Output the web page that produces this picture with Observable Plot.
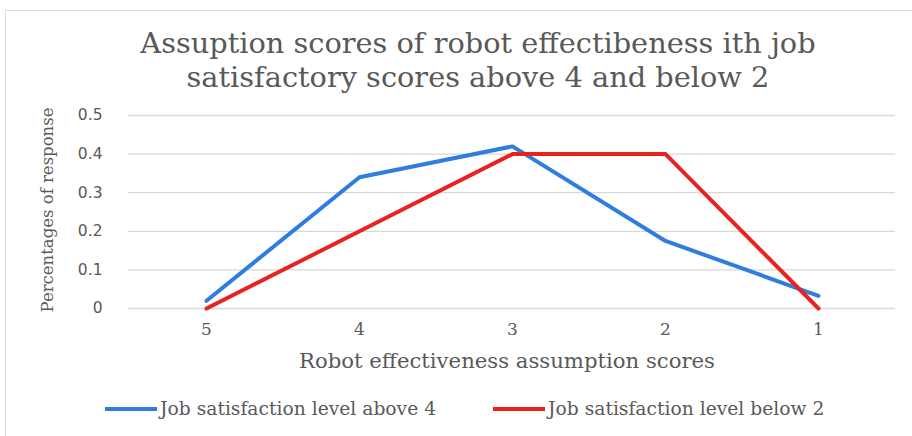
<!DOCTYPE html>
<html>
<head>
<meta charset="utf-8">
<script src="https://cdn.jsdelivr.net/npm/d3@7"></script>
<script src="https://cdn.jsdelivr.net/npm/@observablehq/plot@0.6"></script>
<style>
  html, body { margin: 0; padding: 0; background: #fff; }
  #wrap { position: relative; width: 912px; height: 436px; overflow: hidden; font-family: "DejaVu Serif", serif; color: #595959; }
  #frame { position: absolute; left: 5px; top: 10px; width: 920px; height: 440px; border: 1px solid #d9d9d9; box-sizing: border-box; }
  #title { position: absolute; left: 0; width: 956px; top: 26px; text-align: center; font-size: 28.8px; line-height: 34px; }
  #ylabel { position: absolute; left: 47px; top: 210px; transform: translate(-50%, -50%) rotate(-90deg); white-space: nowrap; font-size: 16.5px; }
  #xlabel { position: absolute; left: 507px; top: 360px; transform: translate(-50%, -50%); white-space: nowrap; font-size: 21.2px; }
  #legend { position: absolute; top: 398px; left: 0; width: 912px; font-size: 18.7px; }
  .item { position: absolute; display: flex; align-items: center; white-space: nowrap; }
  .swatch { width: 52px; height: 4px; margin-right: 3px; }
  #plot { position: absolute; left: 0; top: 0; }
</style>
</head>
<body>
<div id="wrap">
  <div id="frame"></div>
  <div id="plot"></div>
  <div id="title">Assuption scores of robot effectibeness ith job<br>satisfactory scores above 4 and below 2</div>
  <div id="ylabel">Percentages of response</div>
  <div id="xlabel">Robot effectiveness assumption scores</div>
  <div id="legend"></div>
</div>
<script>
// Assumption scores, listed from highest to lowest as on the axis
const scores = ["5", "4", "3", "2", "1"];
// Share of responses for each job-satisfaction group
const above4 = [0.02, 0.34, 0.42, 0.175, 0.033];
const below2 = [0, 0.2, 0.4, 0.4, 0];
const seriesNames = ["Job satisfaction level above 4", "Job satisfaction level below 2"];
const seriesColors = ["#2f7de1", "#e8221e"];
const yTicks = [0, 0.1, 0.2, 0.3, 0.4, 0.5];

const rows = [];
scores.forEach((s, i) => {
  rows.push({score: s, value: above4[i], series: seriesNames[0]});
  rows.push({score: s, value: below2[i], series: seriesNames[1]});
});

const chart = Plot.plot({
  width: 912,
  height: 436,
  marginTop: 115,
  marginBottom: 128,
  marginLeft: 128,
  marginRight: 17,
  style: {background: "transparent", overflow: "visible"},
  x: {type: "point", domain: scores, padding: 0.5, label: null},
  y: {domain: [0, 0.5], label: null},
  color: {domain: seriesNames, range: seriesColors},
  marks: [
    Plot.gridY(yTicks, {stroke: "#d9d9d9", strokeOpacity: 1, strokeWidth: 1.3}),
    Plot.axisY(yTicks, {
      tickSize: 0, tickPadding: 26, label: null,
      tickFormat: d => d === 0 ? "0" : d.toFixed(1),
      fontSize: 15.5, fontFamily: "DejaVu Sans", fill: "#595959"
    }),
    Plot.axisX({
      tickSize: 0, tickPadding: 14, label: null,
      fontSize: 17, fontFamily: "DejaVu Serif", fill: "#595959"
    }),
    Plot.line(rows, {
      x: "score", y: "value", z: "series", stroke: "series",
      strokeWidth: 4, strokeLinejoin: "round", strokeLinecap: "round"
    })
  ]
});
document.getElementById("plot").appendChild(chart);

// Legend entries
const legend = document.getElementById("legend");
const legendLeft = [105, 493];
seriesNames.forEach((name, i) => {
  const item = document.createElement("div");
  item.className = "item";
  item.style.left = legendLeft[i] + "px";
  const sw = document.createElement("span");
  sw.className = "swatch";
  sw.style.background = seriesColors[i];
  const tx = document.createElement("span");
  tx.textContent = name;
  item.appendChild(sw);
  item.appendChild(tx);
  legend.appendChild(item);
});
</script>
</body>
</html>
